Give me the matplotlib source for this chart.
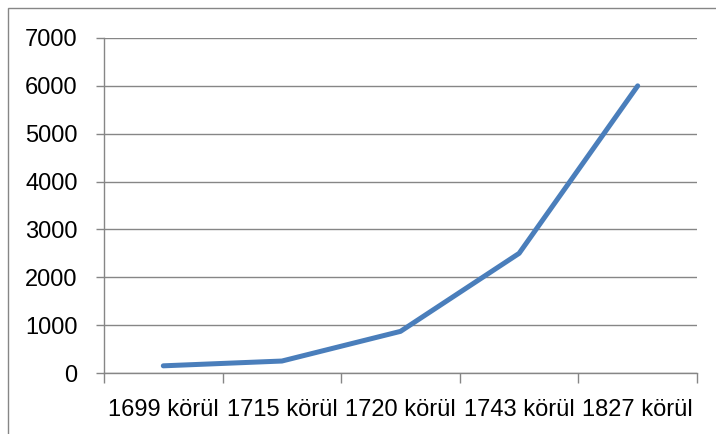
import matplotlib
matplotlib.use("Agg")
import matplotlib.pyplot as plt
from matplotlib.patches import Rectangle
from matplotlib.ticker import FixedLocator, NullFormatter

categories = ["1699 körül", "1715 körül", "1720 körül", "1743 körül", "1827 körül"]
values = [150, 250, 870, 2500, 6000]
yticks = [0, 1000, 2000, 3000, 4000, 5000, 6000, 7000]

W, H = 716, 434
fig = plt.figure(figsize=(W / 100, H / 100), dpi=100)
fig.patch.set_facecolor("white")

# chart area border
fig.patches.append(Rectangle((8 / W, -0.1), 1.2, 1.1 - 8 / H, transform=fig.transFigure,
                             fill=False, edgecolor="#868686", linewidth=1.0))

ax = fig.add_axes([104 / W, 1 - 373 / H, (697 - 104) / W, (373 - 38) / H])
grey = "#868686"
font = ["Liberation Sans", "DejaVu Sans"]

x = list(range(len(categories)))
ax.plot(x, values, color="#4A7EBB", linewidth=3.6, solid_capstyle="round", solid_joinstyle="round")

ax.set_xlim(-0.5, len(categories) - 0.5)
ax.set_ylim(0, 7000)
ax.set_yticks(yticks)
ax.set_yticklabels([str(v) for v in yticks], fontsize=17, family=font)
ax.yaxis.grid(True, color=grey, linewidth=1.0)
ax.set_axisbelow(True)

ax.set_xticks(x)
ax.set_xticklabels(categories, fontsize=17, family=font)
ax.tick_params(axis="x", which="major", length=0, pad=19)
ax.xaxis.set_minor_locator(FixedLocator([i - 0.5 for i in range(len(categories) + 1)]))
ax.xaxis.set_minor_formatter(NullFormatter())
ax.tick_params(axis="x", which="minor", length=7, width=1.0, color=grey, direction="out")
ax.tick_params(axis="y", length=6, width=1.0, color=grey, direction="out", pad=13)

for s in ["top", "right"]:
    ax.spines[s].set_visible(False)
for s in ["left", "bottom"]:
    ax.spines[s].set_color(grey)
    ax.spines[s].set_linewidth(1.0)

fig.savefig("out.png", dpi=100)
